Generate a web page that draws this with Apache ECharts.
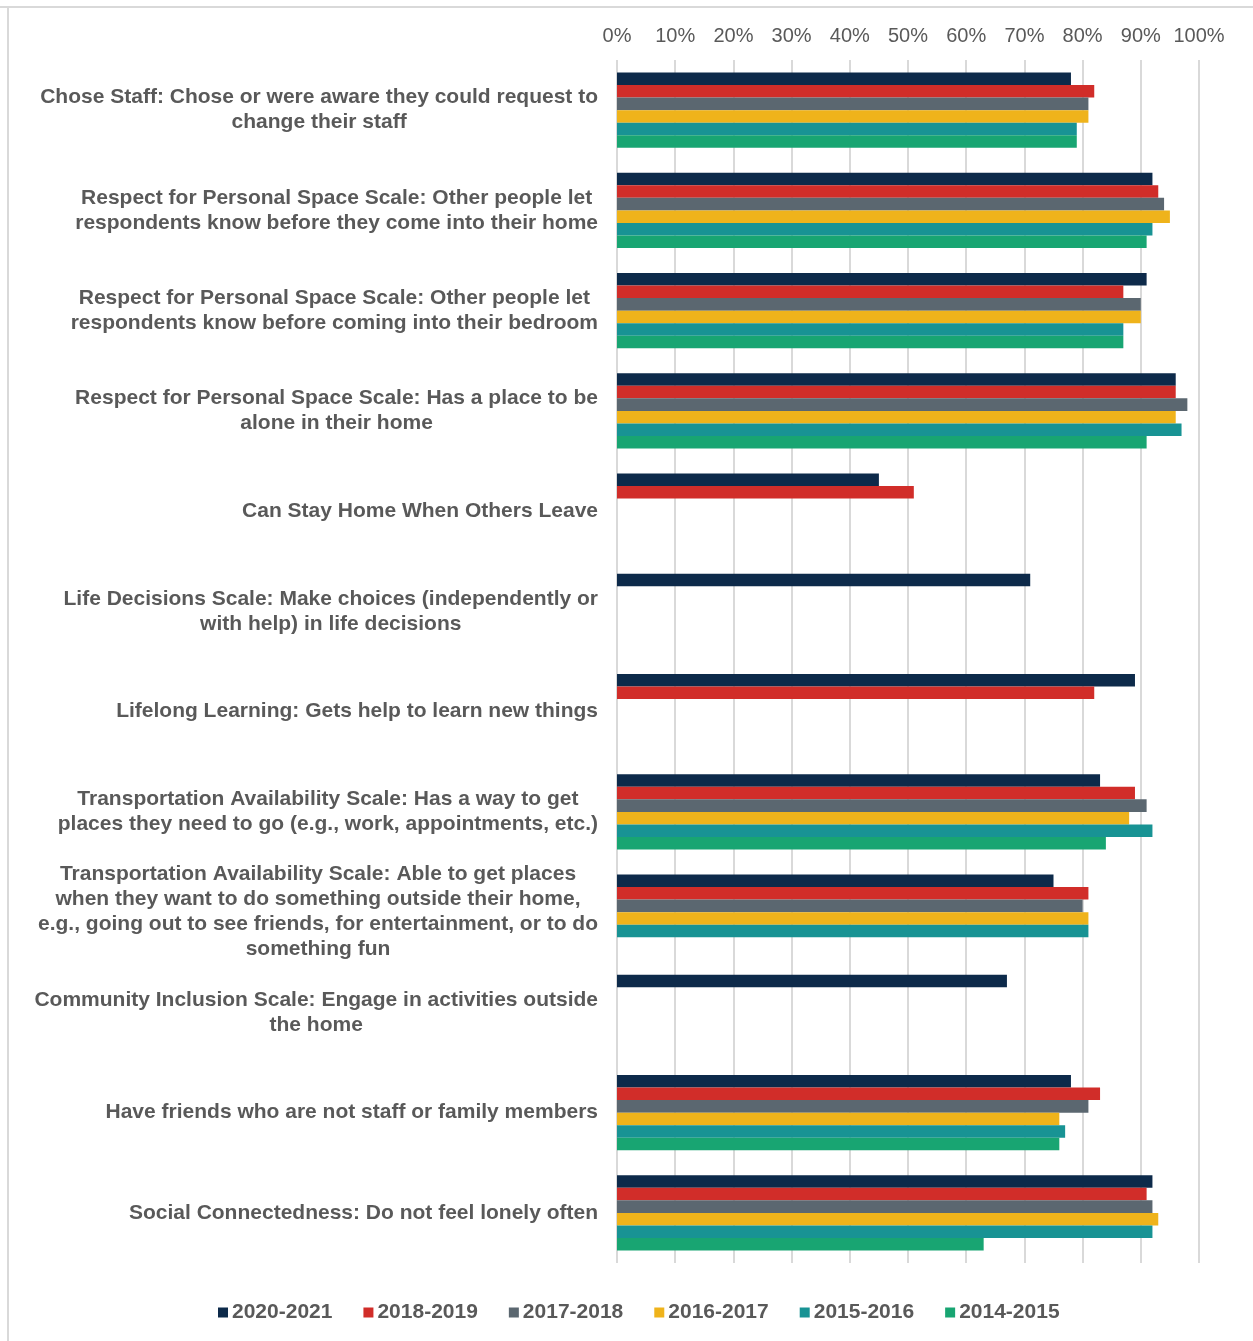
<!DOCTYPE html>
<html>
<head>
<meta charset="utf-8">
<script src="https://cdn.jsdelivr.net/npm/echarts@6/dist/echarts.min.js"></script>
<style>
  html, body { margin: 0; padding: 0; background: #fff; }
  #chart { width: 1253px; height: 1341px; }
</style>
</head>
<body>
<div id="chart"></div>
<script>
// category labels, line breaks as in the original
var categories = [
  'Chose Staff: Chose or were aware they could request to\nchange their staff',
  'Respect for Personal Space Scale: Other people let\nrespondents know before they come into their home',
  'Respect for Personal Space Scale: Other people let\nrespondents know before coming into their bedroom',
  'Respect for Personal Space Scale: Has a place to be\nalone in their home',
  'Can Stay Home When Others Leave',
  'Life Decisions Scale: Make choices (independently or\nwith help) in life decisions',
  'Lifelong Learning: Gets help to learn new things',
  'Transportation Availability Scale: Has a way to get\nplaces they need to go (e.g., work, appointments, etc.)',
  'Transportation Availability Scale: Able to get places\nwhen they want to do something outside their home,\ne.g., going out to see friends, for entertainment, or to do\nsomething fun',
  'Community Inclusion Scale: Engage in activities outside\nthe home',
  'Have friends who are not staff or family members',
  'Social Connectedness: Do not feel lonely often'
]

var seriesNames = ['2020-2021', '2018-2019', '2017-2018', '2016-2017', '2015-2016', '2014-2015']
var colors = ['#0d2a4a', '#d12d29', '#5b6770', '#efb31b', '#189394', '#18a572']

// percent values, '-' = no data
var y2020 = [78, 92, 91, 96, 45, 71, 89, 83, 75, 67, 78, 92]
var y2018 = [82, 93, 87, 96, 51, '-', 82, 89, 81, '-', 83, 91]
var y2017 = [81, 94, 90, 98, '-', '-', '-', 91, 80, '-', 81, 92]
var y2016 = [81, 95, 90, 96, '-', '-', '-', 88, 81, '-', 76, 93]
var y2015 = [79, 92, 87, 97, '-', '-', '-', 92, 81, '-', 77, 92]
var y2014 = [79, 91, 87, 91, '-', '-', '-', 84, '-', '-', 76, 63]
var allData = [y2020, y2018, y2017, y2016, y2015, y2014]

var tickMax = 100
var tickStep = 10

var chart = echarts.init(document.getElementById('chart'))

var series = []
for (var i = 0; i < seriesNames.length; i++) {
  series.push({
    name: seriesNames[i],
    type: 'bar',
    data: allData[i],
    barGap: '0%',
    barCategoryGap: '25%',
    itemStyle: {
      color: colors[i]
    }
  })
}

var option = {
  animation: false,
  backgroundColor: '#fff',
  color: colors,
  grid: {
    left: 617,
    right: 54,
    top: 60,
    bottom: 78
  },
  legend: {
    bottom: 13,
    left: 213,
    icon: 'rect',
    itemWidth: 10,
    itemHeight: 10,
    itemGap: 31,
    textStyle: {
      fontFamily: 'Liberation Sans, Arial',
      fontSize: 21,
      fontWeight: 'bold',
      color: '#595959',
      padding: [0, 0, 0, -1]
    },
    data: seriesNames
  },
  xAxis: {
    type: 'value',
    position: 'top',
    min: 0,
    max: tickMax,
    interval: tickStep,
    axisLine: { show: false },
    axisTick: { show: false },
    splitLine: {
      lineStyle: { color: '#d9d9d9', width: 2 }
    },
    axisLabel: {
      margin: 14,
      fontFamily: 'Liberation Sans, Arial',
      fontSize: 20,
      color: '#595959',
      formatter: '{value}%'
    }
  },
  yAxis: {
    type: 'category',
    inverse: true,
    data: categories,
    axisLine: { show: false },
    axisTick: { show: false },
    axisLabel: {
      margin: 19,
      align: 'right',
      formatter: function (v) {
        return v.split('\n').map(function (s) { return '{a|' + s + '}' }).join('\n')
      },
      rich: {
        a: {
          align: 'center',
          fontFamily: 'Liberation Sans, Arial',
          fontSize: 21,
          fontWeight: 'bold',
          color: '#595959',
          lineHeight: 25
        }
      }
    }
  },
  graphic: [
    { type: 'rect', left: 0, top: 6, shape: { width: 1253, height: 2 }, style: { fill: '#d9d9d9' } },
    { type: 'rect', left: 7, top: 6, shape: { width: 2, height: 1335 }, style: { fill: '#d9d9d9' } }
  ],
  series: series
}

chart.setOption(option)
</script>
</body>
</html>
